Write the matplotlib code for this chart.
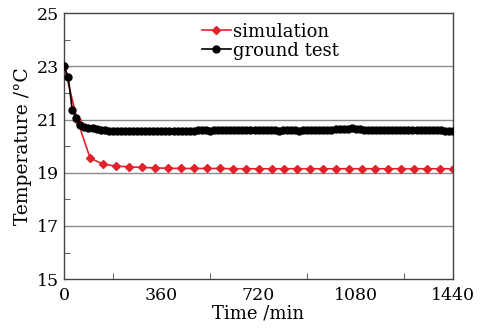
import matplotlib
matplotlib.use('Agg')
import matplotlib.pyplot as plt
from matplotlib.ticker import MultipleLocator

# simulation: one point every 48 min
sim_time = [0, 48, 96, 144, 192, 240, 288, 336, 384, 432, 480, 528, 576, 624,
            672, 720, 768, 816, 864, 912, 960, 1008, 1056, 1104, 1152, 1200,
            1248, 1296, 1344, 1392, 1440]
sim_temp = [23.0, 21.0, 19.55, 19.32, 19.25, 19.22, 19.2, 19.18, 19.17, 19.16,
            19.16, 19.16, 19.16, 19.15, 19.15, 19.15, 19.15, 19.15, 19.15, 19.15,
            19.15, 19.15, 19.15, 19.15, 19.15, 19.15, 19.15, 19.15, 19.15, 19.15,
            19.15]

# ground test: one point every 15 min
test_time = list(range(0, 1441, 15))
test_temp = [23.0, 22.6, 21.35, 21.05, 20.8, 20.72, 20.7, 20.68, 20.65, 20.62,
             20.6, 20.58, 20.57, 20.56, 20.55, 20.56, 20.57, 20.56, 20.55, 20.56,
             20.57, 20.58, 20.56, 20.55, 20.56, 20.55, 20.56, 20.57, 20.58, 20.57,
             20.56, 20.57, 20.58, 20.59, 20.6, 20.59, 20.58, 20.59, 20.6, 20.6,
             20.59, 20.6, 20.61, 20.6, 20.59, 20.6, 20.61, 20.6, 20.59, 20.6,
             20.61, 20.6, 20.59, 20.58, 20.59, 20.6, 20.6, 20.59, 20.58, 20.59,
             20.6, 20.61, 20.6, 20.59, 20.6, 20.61, 20.62, 20.63, 20.64, 20.65,
             20.66, 20.67, 20.66, 20.64, 20.62, 20.6, 20.59, 20.6, 20.61, 20.6,
             20.59, 20.6, 20.61, 20.62, 20.61, 20.6, 20.6, 20.61, 20.6, 20.59,
             20.6, 20.61, 20.6, 20.59, 20.58, 20.58, 20.58]

x_ticks = [0, 360, 720, 1080, 1440]
y_ticks = [15, 17, 19, 21, 23, 25]

plt.rcParams['font.family'] = ['DejaVu Serif']
fig = plt.figure(figsize=(4.86, 3.28), dpi=100)
ax = fig.add_axes([0.132, 0.149, 0.8, 0.811])

for yv in y_ticks[1:-1]:
    ax.axhline(yv, color='#8a8a8a', lw=1.0, zorder=1)

ax.plot(test_time, test_temp, color='black', marker='o', ms=5, lw=1.2,
        label='ground test', zorder=3)
ax.plot(sim_time, sim_temp, color='#e3212b', marker='D', ms=4, lw=1.2,
        label='simulation', zorder=2)

ax.set_xlim(0, 1440)
ax.set_ylim(15, 25)
ax.set_xticks(x_ticks)
ax.set_yticks(y_ticks)
ax.xaxis.set_minor_locator(MultipleLocator(180))
ax.set_yticks([16, 18, 20, 22, 24], minor=True)
ax.tick_params(which='both', direction='in', labelsize=12.5, color='#444444')
ax.tick_params(which='major', length=0)
ax.tick_params(axis='x', which='major', pad=6)
ax.tick_params(axis='y', which='major', pad=4)
ax.tick_params(which='minor', length=4)
for s in ax.spines.values():
    s.set_color('#444444')
    s.set_linewidth(1.0)

ax.set_xlabel('Time /min', fontsize=13, labelpad=0)
ax.set_ylabel('Temperature /\u00b0C', fontsize=13.5, labelpad=3)

h, l = ax.get_legend_handles_labels()
ax.legend([h[1], h[0]], [l[1], l[0]], loc='upper center',
          bbox_to_anchor=(0.53, 1.025), frameon=False, fontsize=13,
          handlelength=1.6, handletextpad=0.1, labelspacing=0.05)

fig.savefig('out.png', dpi=100)
